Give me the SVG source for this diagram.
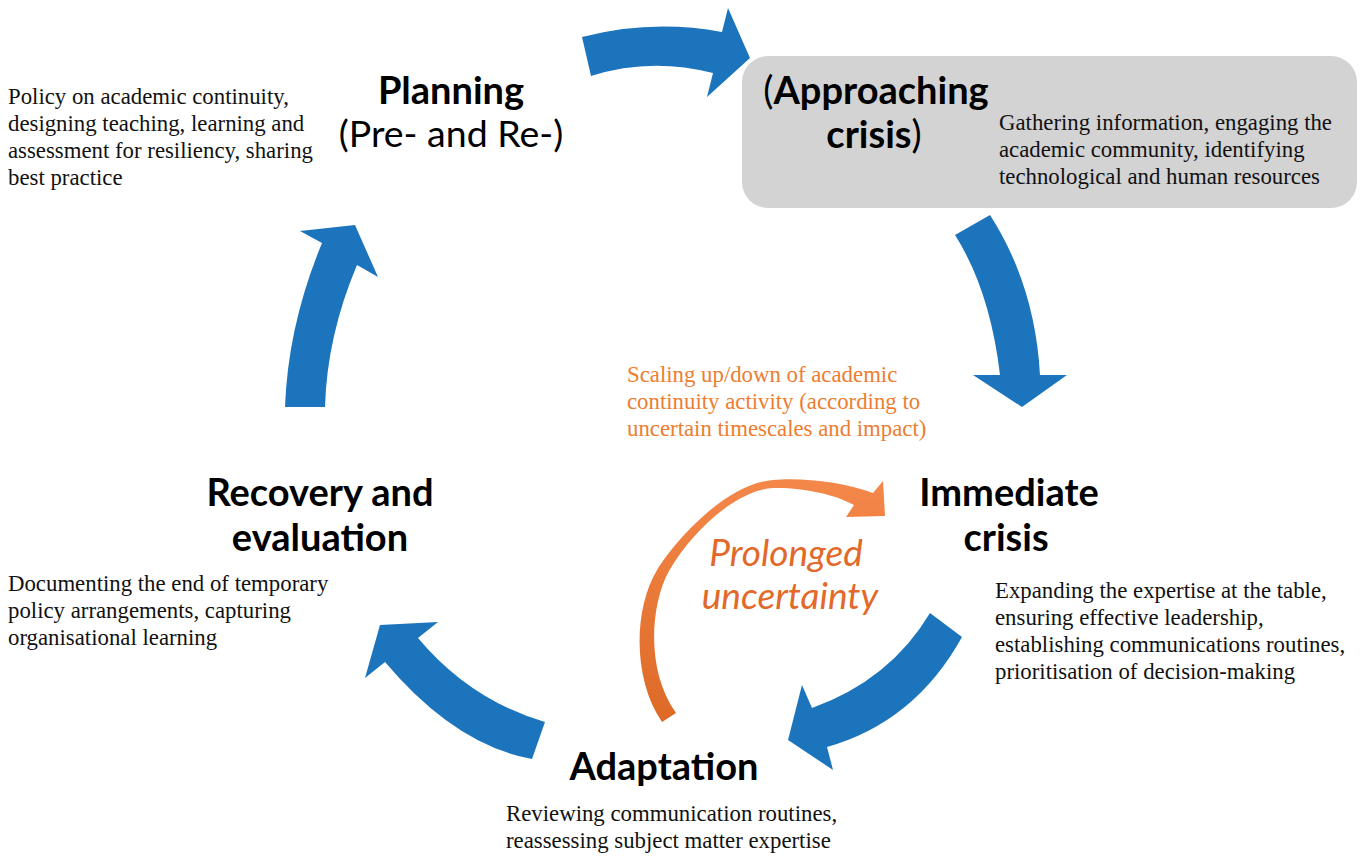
<svg xmlns="http://www.w3.org/2000/svg" width="1363" height="856" viewBox="0 0 1363 856">
  <style>
    .head { font-family: Lato, "Open Sans", "Liberation Sans", sans-serif; font-weight: 700; font-size: 38px; fill: #000; text-anchor: middle; }
    .head-reg { font-family: Lato, "Open Sans", "Liberation Sans", sans-serif; font-weight: 400; font-size: 37.5px; fill: #000; text-anchor: middle; }
    .body { font-family: "Liberation Serif", "Times New Roman", serif; font-size: 22.8px; fill: #111; }
    .note { font-family: "Liberation Serif", "Times New Roman", serif; font-size: 22.8px; fill: #ED7D31; }
    .loop { font-family: Lato, "Open Sans", "Liberation Sans", sans-serif; font-style: italic; font-size: 37px; fill: #E3692A; text-anchor: middle; }
    .cycle { fill: #1C75BC; }
  </style>
  <defs>
    <linearGradient id="orangeGrad" x1="0" y1="478" x2="0" y2="722" gradientUnits="userSpaceOnUse">
      <stop offset="0" stop-color="#F4884A"/>
      <stop offset="1" stop-color="#DD6926"/>
    </linearGradient>
  </defs>

  <rect width="1363" height="856" fill="#FFFFFF"/>

  <!-- Approaching crisis panel -->
  <g id="approaching-crisis">
    <rect x="742" y="56" width="615" height="152" rx="26" ry="26" fill="#D3D3D3"/>
    <text class="head" x="876" y="104"><tspan font-weight="400">(</tspan>Approaching</text>
    <text class="head" x="874" y="148">crisis<tspan font-weight="400">)</tspan></text>
    <text class="body">
      <tspan x="999" y="130">Gathering information, engaging the</tspan>
      <tspan x="999" y="157">academic community, identifying</tspan>
      <tspan x="999" y="184">technological and human resources</tspan>
    </text>
  </g>

  <!-- Cycle connectors -->
  <g id="connectors">
    <path class="cycle" d="M582,37 Q652,19 722,32 L728,8 L750,58 L707,97 L713,73 Q650,57 591,76 Z"/>
    <path class="cycle" d="M955,235 L990,215 Q1035,285 1040,375 L1067,375 L1022,407 L973,375 L1000,375 Q990,290 955,235 Z"/>
    <path class="cycle" d="M930,613 L962,637 Q915,722 827,747 L833,770 L788,740 L802,685 L812,708 Q890,680 930,613 Z"/>
    <path class="cycle" d="M545,722 Q470,700 418,638 L438,622 L380,625 L365,678 L385,662 Q455,745 532,759 Z"/>
    <path class="cycle" d="M285,407 Q288,325 322,243 L300,231 L355,225 L378,277 L357,265 Q327,336 325,407 Z"/>
    <!-- prolonged-uncertainty loop arrow, tapering toward its head -->
    <path fill="url(#orangeGrad)" d="M662,722 C633,680 633,610 657,570 C675,541 725,484 773,480 C800,477 845,482 873,493 L883,481 L885,516 L846,517 L854,505 C835,494 800,487 773,488 C735,490 690,534 669,571 C651,603 645,670 676,713 Z"/>
  </g>

  <!-- Planning -->
  <g id="planning">
    <text class="head" x="451" y="104">Planning</text>
    <text class="head-reg" x="451" y="147">(Pre- and Re-)</text>
    <text class="body">
      <tspan x="8" y="104">Policy on academic continuity,</tspan>
      <tspan x="8" y="131">designing teaching, learning and</tspan>
      <tspan x="8" y="158">assessment for resiliency, sharing</tspan>
      <tspan x="8" y="185">best practice</tspan>
    </text>
  </g>

  <!-- Immediate crisis -->
  <g id="immediate-crisis">
    <text class="head" x="1009" y="506">Immediate</text>
    <text class="head" x="1006" y="551">crisis</text>
    <text class="body">
      <tspan x="995" y="598">Expanding the expertise at the table,</tspan>
      <tspan x="995" y="625">ensuring effective leadership,</tspan>
      <tspan x="995" y="652">establishing communications routines,</tspan>
      <tspan x="995" y="679">prioritisation of decision-making</tspan>
    </text>
  </g>

  <!-- Adaptation -->
  <g id="adaptation">
    <text class="head" x="664" y="780">Adaptation</text>
    <text class="body">
      <tspan x="506" y="821">Reviewing communication routines,</tspan>
      <tspan x="506" y="848">reassessing subject matter expertise</tspan>
    </text>
  </g>

  <!-- Recovery and evaluation -->
  <g id="recovery-evaluation">
    <text class="head" x="320" y="506">Recovery and</text>
    <text class="head" x="320" y="551">evaluation</text>
    <text class="body">
      <tspan x="8" y="591">Documenting the end of temporary</tspan>
      <tspan x="8" y="618">policy arrangements, capturing</tspan>
      <tspan x="8" y="645">organisational learning</tspan>
    </text>
  </g>

  <!-- Prolonged uncertainty -->
  <g id="prolonged-uncertainty">
    <text class="loop" x="786" y="566">Prolonged</text>
    <text class="loop" x="790" y="609">uncertainty</text>
    <text class="note">
      <tspan x="627" y="382">Scaling up/down of academic</tspan>
      <tspan x="627" y="409">continuity activity (according to</tspan>
      <tspan x="627" y="436">uncertain timescales and impact)</tspan>
    </text>
  </g>
</svg>
